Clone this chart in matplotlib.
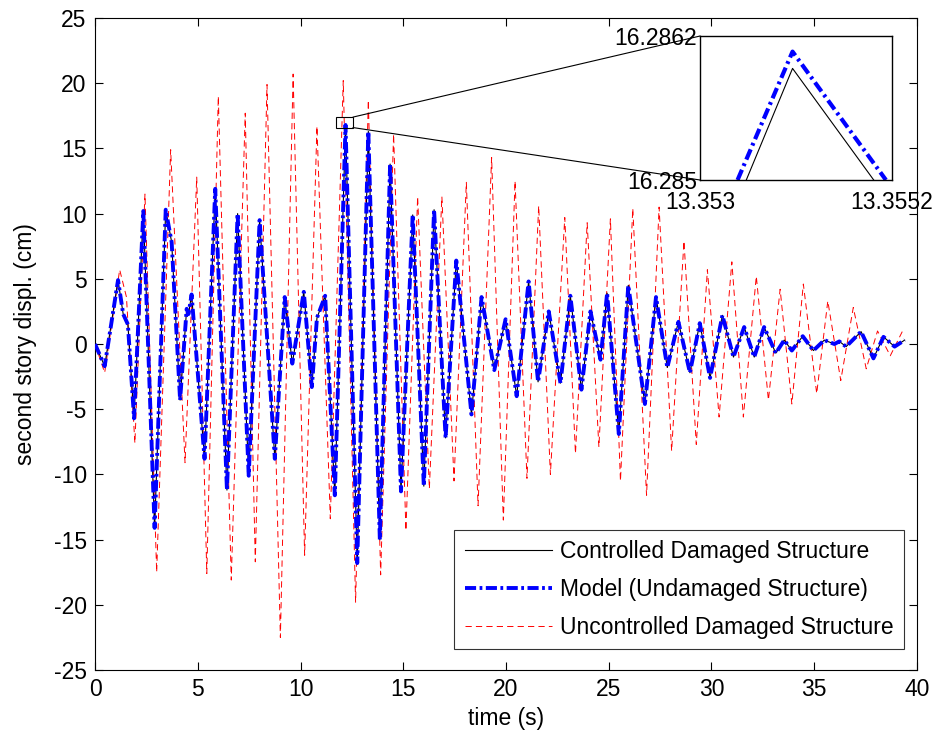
import matplotlib
matplotlib.use('Agg')
import matplotlib.pyplot as plt
from matplotlib.patches import Rectangle, ConnectionPatch

plt.rcParams['font.family'] = ['Liberation Sans', 'DejaVu Sans']
plt.rcParams['lines.scale_dashes'] = False
plt.rcParams['axes.unicode_minus'] = False

# extrema (time in s, displacement in cm)
t_model = [0, 0.47, 1.12, 1.37, 1.6, 1.9, 2.35, 2.9, 3.44, 3.73,
           4.14, 4.46, 4.55, 4.7, 5.33, 5.85, 6.42, 6.94, 7.48, 8.01,
           8.75, 9.23, 9.6, 10.16, 10.55, 10.8, 11.2, 11.67, 12.19, 12.76,
           13.3, 13.86, 14.36, 14.89, 15.46, 16.0, 16.5, 17.06, 17.58, 18.32,
           18.81, 19.43, 19.98, 20.52, 21.1, 21.56, 22.08, 22.65, 23.13, 23.67,
           24.11, 24.6, 24.92, 25.49, 25.95, 26.76, 27.3, 27.85, 28.39, 28.95,
           29.43, 29.93, 30.53, 31.07, 31.59, 32.08, 32.56, 33.13, 33.54, 33.91,
           34.44, 34.96, 35.49, 35.98, 36.22, 36.55, 37.28, 37.88, 38.37, 38.91,
           39.4]
y_model = [0, -1.7, 4.9, 2.3, 1.5, -5.7, 10.2, -14.1, 10.3, 7.8,
           -4.3, 2.7, 2.3, 3.8, -8.8, 11.9, -11.2, 10.0, -10.1, 9.5,
           -8.8, 3.6, -1.5, 4.0, -3.3, 2.0, 3.7, -11.6, 16.8, -16.8,
           16.3, -15.0, 13.8, -11.3, 9.9, -10.9, 10.3, -7.2, 6.4, -5.4,
           3.6, -2.0, 1.9, -4.0, 4.8, -2.9, 2.5, -3.0, 3.7, -3.5,
           2.5, -1.2, 3.9, -6.9, 4.5, -4.6, 3.6, -1.8, 1.7, -2.2,
           1.6, -2.6, 2.2, -1.0, 1.3, -1.0, 1.3, -0.7, 0.3, -0.5,
           0.6, -0.5, 0.3, 0.0, 0.2, -0.2, 0.95, -1.1, 0.55, -0.2,
           0.3]
# controlled damaged structure sits on top of the model curve
t_ctrl = list(t_model)
y_ctrl = list(y_model)

t_unc = [0, 0.47, 1.2, 1.53, 1.94, 2.43, 3.0, 3.68, 4.38, 4.95,
         5.44, 6.0, 6.63, 7.31, 7.8, 8.37, 9.02, 9.64, 10.2, 10.8,
         11.45, 12.08, 12.68, 13.3, 13.9, 14.53, 15.13, 15.7, 16.27, 16.88,
         17.47, 18.07, 18.64, 19.3, 19.87, 20.44, 21.02, 21.59, 22.16, 22.86,
         23.38, 23.95, 24.52, 25.08, 25.57, 26.17, 26.84, 27.45, 28.06, 28.66,
         29.26, 29.8, 30.37, 30.99, 31.55, 32.18, 32.77, 33.34, 33.91, 34.47,
         35.12, 35.66, 36.29, 36.9, 37.53, 38.08, 38.7, 39.33]
y_unc = [0, -2.2, 5.7, 3.6, -7.6, 11.5, -17.5, 14.9, -9.1, 12.8,
         -17.6, 19.0, -18.1, 17.7, -16.7, 19.9, -22.5, 20.7, -16.2, 16.7,
         -13.4, 20.2, -19.8, 18.7, -17.7, 16.1, -14.3, 11.3, -11.1, 11.3,
         -10.5, 12.4, -12.4, 14.3, -13.5, 12.5, -10.3, 10.6, -10.0, 9.7,
         -8.4, 9.3, -7.9, 9.6, -10.5, 10.4, -11.6, 10.5, -8.2, 7.9,
         -7.7, 5.7, -5.6, 6.3, -5.6, 5.2, -4.3, 4.2, -4.6, 4.6,
         -3.8, 3.3, -2.8, 2.8, -1.9, 1.0, -0.9, 1.1]

# zoomed peak shown in the inset
zoom_t_model = [13.35343, 13.35406, 13.35513]
zoom_y_model = [16.285, 16.28607, 16.285]
zoom_t_ctrl = [13.35353, 13.35406, 13.35499]
zoom_y_ctrl = [16.285, 16.28593, 16.285]

labels = ['Controlled Damaged Structure', 'Model (Undamaged Structure)',
          'Uncontrolled Damaged Structure']
fs = 16.5

fig = plt.figure(figsize=(9.38, 7.38), dpi=100)
ax = fig.add_axes([0.1013, 0.0921, 0.8763, 0.8835])

ax.plot(t_ctrl, y_ctrl, color='k', lw=0.8, label=labels[0], zorder=2)
ax.plot(t_model, y_model, color=(0, 0, 1), lw=2.8, dashes=(8, 2.5, 2, 2.5),
        label=labels[1], zorder=3)
ax.plot(t_unc, y_unc, color='r', lw=0.7, dashes=(4.5, 3), label=labels[2],
        zorder=1)

ax.set_xlim(0, 40)
ax.set_ylim(-25, 25)
ax.set_xticks(range(0, 41, 5))
ax.set_yticks(range(-25, 26, 5))
ax.tick_params(direction='in', top=True, right=True, labelsize=fs, length=6,
               pad=6)
ax.set_xlabel('time (s)', fontsize=fs, labelpad=4)
ax.set_ylabel('second story displ. (cm)', fontsize=fs, labelpad=12)

leg = ax.legend(loc='lower right', fontsize=16.5, frameon=True, fancybox=False,
                edgecolor='k', handlelength=3.8, handletextpad=0.35,
                borderaxespad=0, labelspacing=0.65, borderpad=0.45,
                bbox_to_anchor=(0.984, 0.032))
leg.get_frame().set_linewidth(0.8)

# small box around the peak that is enlarged
box = Rectangle((11.75, 16.6), 0.8, 0.8, fill=False, ec='k', lw=0.8, zorder=5)
ax.add_patch(box)

ins = fig.add_axes([0.7463, 0.7561, 0.2047, 0.1951])
ins.plot(zoom_t_ctrl, zoom_y_ctrl, color='k', lw=0.8)
ins.plot(zoom_t_model, zoom_y_model, color=(0, 0, 1), lw=3, dashes=(8, 3, 2, 3))
ins.set_xlim(13.353, 13.3552)
ins.set_ylim(16.285, 16.2862)
ins.set_xticks([13.353, 13.3552])
ins.set_xticklabels(['13.353', '13.3552'])
ins.set_yticks([16.285, 16.2862])
ins.set_yticklabels(['16.285', '16.2862'])
ins.tick_params(axis='y', length=0, labelsize=fs, pad=2)
ins.tick_params(axis='x', length=0, labelsize=fs, pad=8)
for s in ins.spines.values():
    s.set_linewidth(1.0)

for ya, yd in [(1, 17.4), (0, 16.6)]:
    con = ConnectionPatch(xyA=(0, ya), coordsA=ins.transAxes,
                          xyB=(12.55, yd), coordsB=ax.transData,
                          color='k', lw=0.8)
    fig.add_artist(con)

fig.savefig('out.png', dpi=100)
